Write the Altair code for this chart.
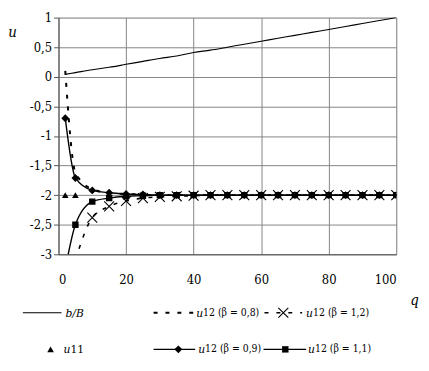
import altair as alt
import pandas as pd

# ---------------- data ----------------
q_bB = [2, 5, 10, 15, 20, 25, 30, 35, 40, 45, 50, 55, 60, 65, 70, 75, 80, 85, 90, 95, 100]
u_bB = [0.04, 0.07, 0.12, 0.16, 0.21, 0.26, 0.31, 0.35, 0.41, 0.45, 0.50, 0.55, 0.60,
        0.65, 0.70, 0.75, 0.80, 0.85, 0.90, 0.95, 1.00]

q_u11 = [2, 5]
u_u11 = [-2.0, -2.0]

q_12 = [2, 5, 10, 15, 20, 25, 30, 35, 40, 45, 50, 55, 60, 65, 70, 75, 80, 85, 90, 95, 100]
u_b08 = [0.10, -1.62, -1.90, -1.96, -1.98, -1.99] + [-2.0] * 15
u_b09 = [-0.70, -1.71, -1.92, -1.96, -1.98, -1.99] + [-2.0] * 15
u_b11 = [-3.25, -2.50, -2.11, -2.05, -2.02, -2.01] + [-2.0] * 15

q_b12 = [5, 10, 15, 20, 25, 30, 35, 40, 45, 50, 55, 60, 65, 70, 75, 80, 85, 90, 95, 100]
u_b12 = [-3.1, -2.38, -2.19, -2.10, -2.05, -2.03, -2.02, -2.01] + [-2.0] * 12

x_ticks = [0, 20, 40, 60, 80, 100]
y_ticks = [-3, -2.5, -2, -1.5, -1, -0.5, 0, 0.5, 1]

legend_labels = ["b/B", "12 (β = 0,8)", "12 (β = 1,2)", "11", "12 (β = 0,9)", "12 (β = 1,1)"]

# ---------------- styling / layout ----------------
FONT = "DejaVu Serif Condensed"
W, H = 341, 239
GRID = "#858585"

X = alt.X("q:Q", scale=alt.Scale(domain=[0, 100], nice=False, zero=False),
          axis=alt.Axis(values=x_ticks, grid=True, gridColor=GRID, ticks=False,
                        labelPadding=19, labelFont=FONT, labelFontSize=13, labelColor="black",
                        domainColor="#555", title="q", titleFont=FONT, titleFontSize=15,
                        titleFontStyle="italic", titleFontWeight="normal", titleX=359, titleY=46,
                        titleBaseline="middle", titleAlign="center"))
Y = alt.Y("u:Q", scale=alt.Scale(domain=[-3, 1], nice=False, zero=False),
          axis=alt.Axis(values=y_ticks, grid=True, gridColor=GRID, tickSize=5, tickColor="#555",
                        labelPadding=2, labelFont=FONT, labelFontSize=13, labelColor="black",
                        labelExpr="replace(toString(datum.value), '.', ',')",
                        domainColor="#555", title="u", titleFont=FONT, titleFontSize=15,
                        titleFontStyle="italic", titleFontWeight="normal", titleAngle=0,
                        titleX=-47, titleY=14, titleBaseline="middle", titleAlign="center"))


def frame(q, u):
    return pd.DataFrame({"q": q, "u": u})


def line(q, u, width=1.4, dash=None):
    kw = dict(color="black", strokeWidth=width, clip=True, interpolate="monotone")
    if dash:
        kw["strokeDash"] = dash
    return alt.Chart(frame(q, u)).mark_line(**kw).encode(x=X, y=Y)


def points(q, u, shape, size, filled=True):
    kw = dict(shape=shape, size=size, clip=True, opacity=1)
    if filled:
        kw.update(filled=True, color="black")
    else:
        kw.update(filled=False, color="black", strokeWidth=1.1)
    return alt.Chart(frame(q, u)).mark_point(**kw).encode(x=X, y=Y)


XSHAPE = "M-1,-1L1,1M-1,1L1,-1"
DASH = [4, 8]

layers = [
    line(q_bB, u_bB, width=1.1),
    line(q_12, u_b08, width=2, dash=DASH),
    line(q_b12, u_b12, width=1.6, dash=DASH),
    points(q_b12, u_b12, XSHAPE, 100, filled=False),
    line(q_12, u_b11, width=1.4),
    points(q_12, u_b11, "square", 42),
    line(q_12, u_b09, width=1.4),
    points(q_12, u_b09, "diamond", 64),
    points(q_u11, u_u11, "triangle-up", 45),
]

# ---------------- legend (below the plot) ----------------
one = pd.DataFrame({"k": [0]})
R1, R2 = 298, 335
LFS = 10.5


def leg_rule(x1, x2, y, dash=None, width=1.2):
    kw = dict(color="black", strokeWidth=width)
    if dash:
        kw["strokeDash"] = dash
    return alt.Chart(one).mark_rule(**kw).encode(x=alt.value(x1), x2=alt.value(x2), y=alt.value(y))


def leg_pt(x, y, shape, size, filled=True):
    kw = dict(shape=shape, size=size, opacity=1, color="black")
    if filled:
        kw["filled"] = True
    else:
        kw.update(filled=False, strokeWidth=1.1)
    return alt.Chart(one).mark_point(**kw).encode(x=alt.value(x), y=alt.value(y))


def leg_text(x, y, txt, italic=False, size=LFS):
    return alt.Chart(one).mark_text(font=FONT, fontSize=size, align="left", baseline="middle",
                                    color="black", fontStyle="italic" if italic else "normal"
                                    ).encode(x=alt.value(x), y=alt.value(y), text=alt.value(txt))


legend = [
    # row 1
    leg_rule(-36, 3, R1, width=1.1),
    leg_text(7, R1, legend_labels[0], italic=True, size=12),
    leg_rule(96, 136, R1, dash=DASH, width=2),
    leg_text(139, R1, "u", italic=True, size=12),
    leg_text(146, R1, legend_labels[1]),
    leg_rule(208, 246, R1, dash=DASH, width=1.6),
    leg_pt(227, R1, XSHAPE, 100, filled=False),
    leg_text(250, R1, "u", italic=True, size=12),
    leg_text(257, R1, legend_labels[2]),
    # row 2
    leg_pt(-8, R2, "triangle-up", 45),
    leg_text(5, R2, "u", italic=True, size=12),
    leg_text(12, R2, legend_labels[3], size=12),
    leg_rule(96, 138, R2, width=1.4),
    leg_pt(121, R2, "diamond", 64),
    leg_text(141, R2, "u", italic=True, size=12),
    leg_text(148, R2, legend_labels[4]),
    leg_rule(207, 250, R2, width=1.4),
    leg_pt(229, R2, "square", 42),
    leg_text(252, R2, "u", italic=True, size=12),
    leg_text(259, R2, legend_labels[5]),
]

chart = alt.layer(*layers, *legend).properties(
    width=W, height=H,
    autosize=alt.AutoSizeParams(type="none"),
    padding={"left": 51, "top": 8, "right": 25, "bottom": 100},
).configure_view(stroke=None).configure(background="white")

chart.save("out.html", embed_options={"renderer": "svg", "actions": False})
